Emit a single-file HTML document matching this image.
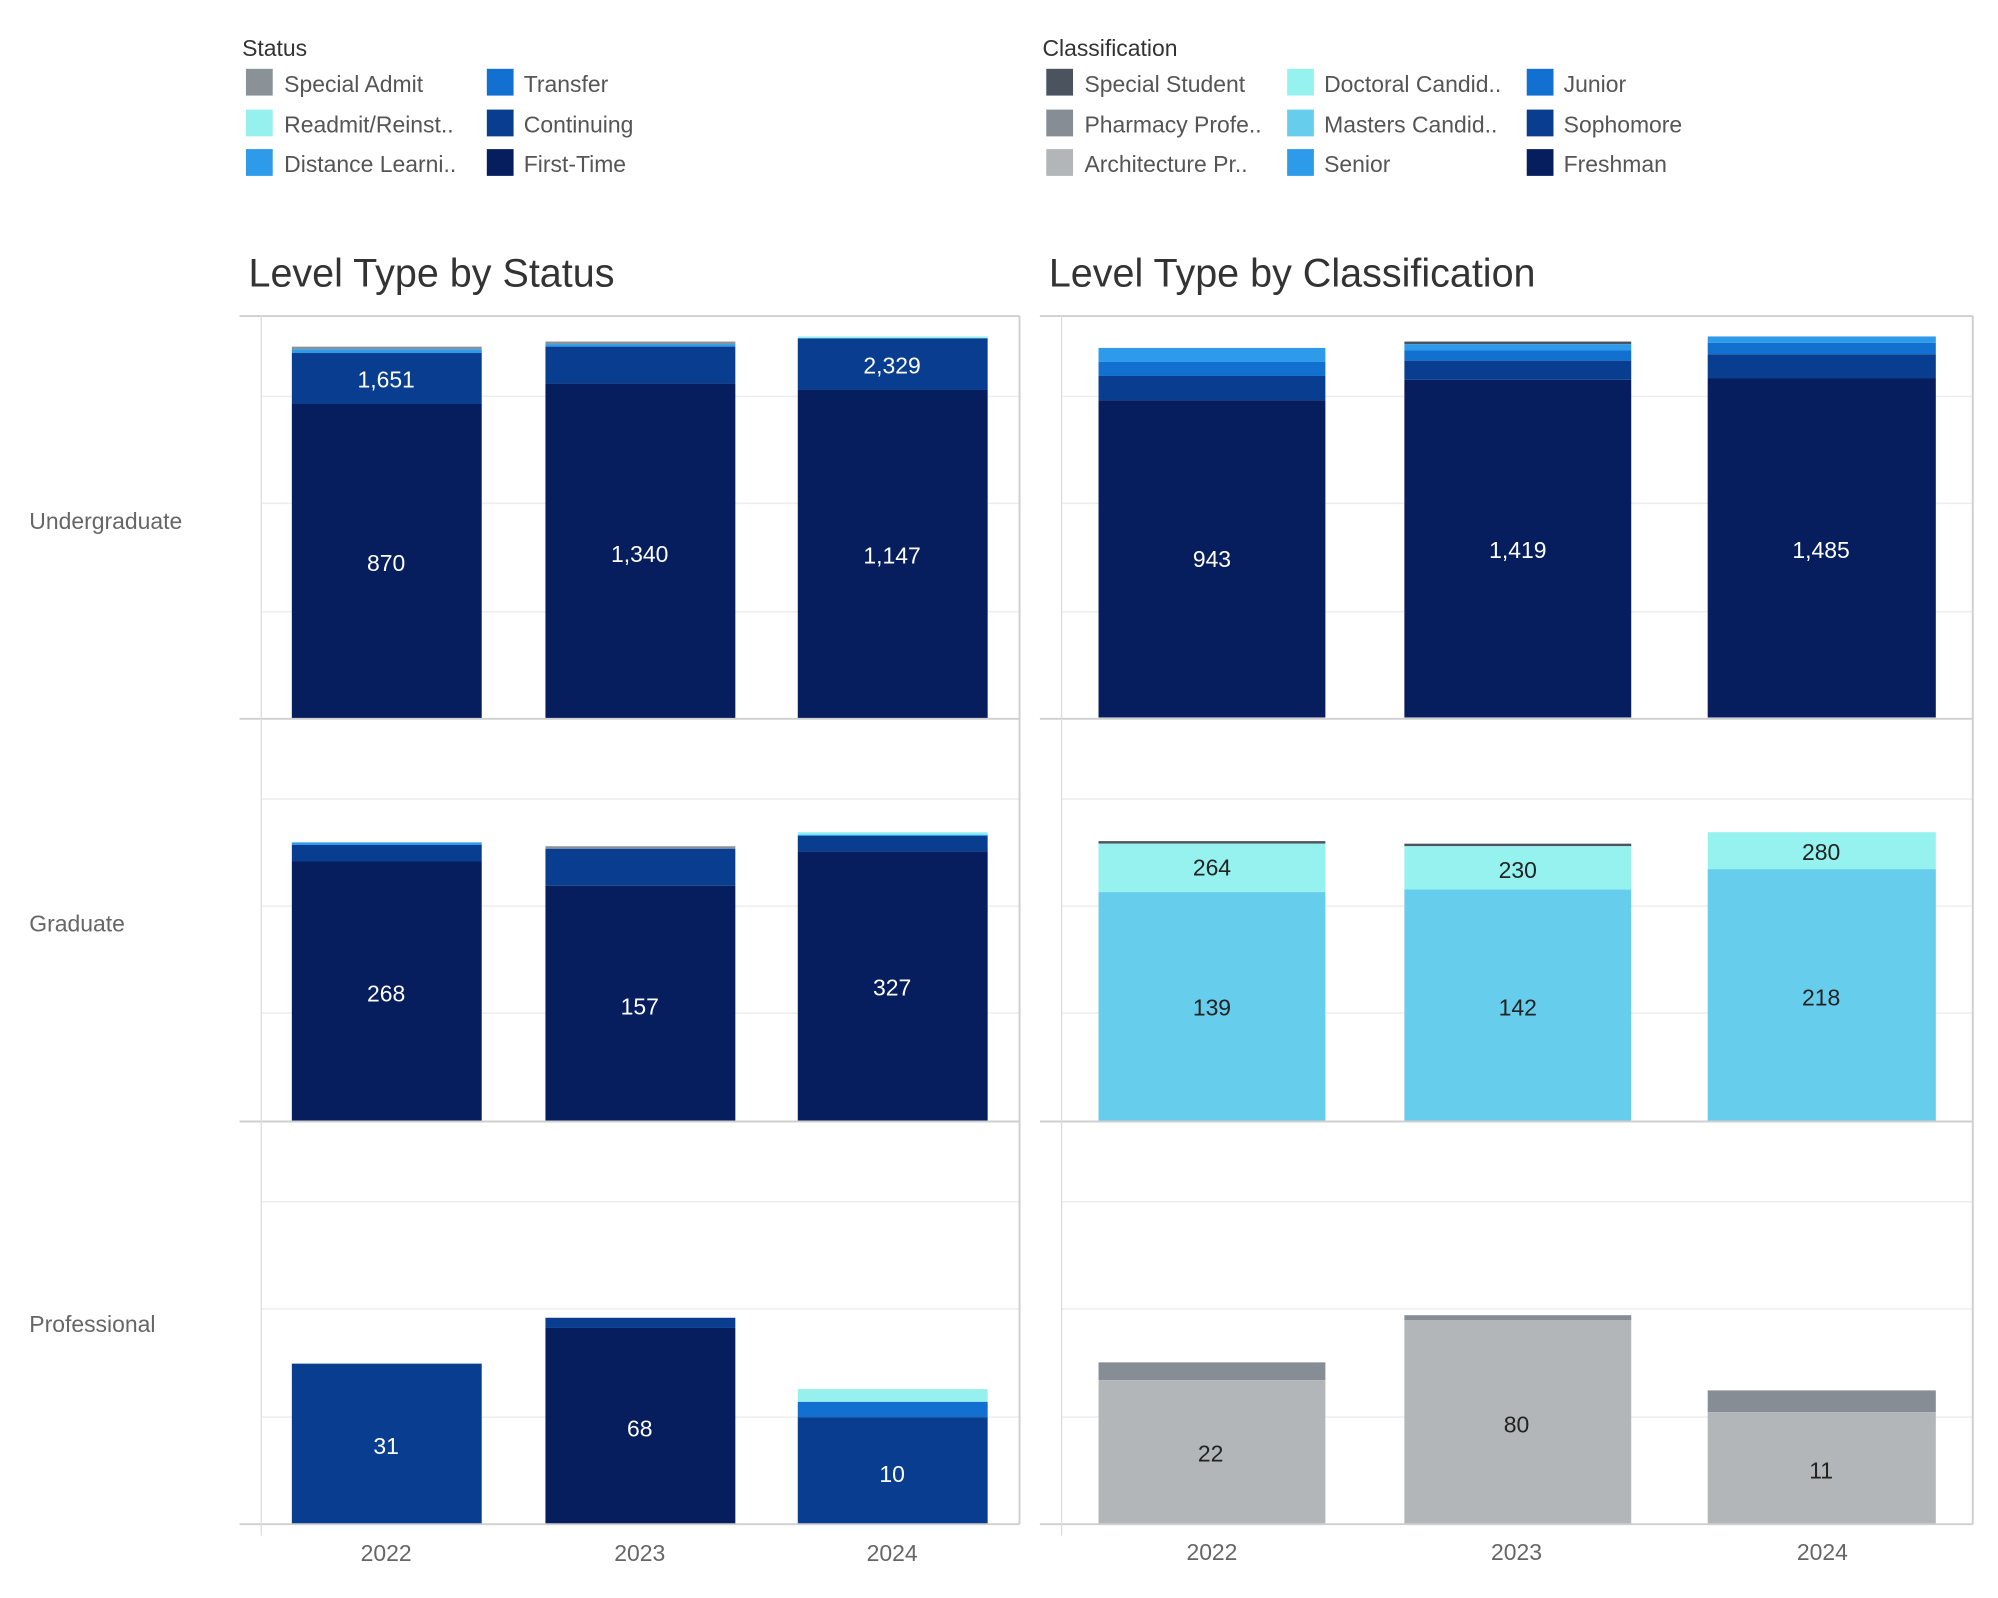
<!DOCTYPE html>
<html><head><meta charset="utf-8"><style>
html,body{margin:0;padding:0;background:#fff;}
svg{display:block;}
text{font-family:"Liberation Sans",sans-serif;}
</style></head><body>
<svg width="1998" height="1598" viewBox="0 0 1567.8 1253.9" preserveAspectRatio="none" xmlns="http://www.w3.org/2000/svg">
<g font-size="18" fill="#555">
<text x="190" y="44" fill="#333" font-size="18">Status</text>
<rect x="193" y="54" width="21" height="21" fill="#8a9297"/><text x="223" y="72">Special Admit</text>
<rect x="193" y="86" width="21" height="21" fill="#96f0ee"/><text x="223" y="104">Readmit/Reinst..</text>
<rect x="193" y="117" width="21" height="21" fill="#2e9aea"/><text x="223" y="135">Distance Learni..</text>
<rect x="382" y="54" width="21" height="21" fill="#1170d0"/><text x="411" y="72">Transfer</text>
<rect x="382" y="86" width="21" height="21" fill="#083d8f"/><text x="411" y="104">Continuing</text>
<rect x="382" y="117" width="21" height="21" fill="#061d5e"/><text x="411" y="135">First-Time</text>

<text x="818" y="44" fill="#333">Classification</text>
<rect x="821" y="54" width="21" height="21" fill="#4a535e"/><text x="851" y="72">Special Student</text>
<rect x="821" y="86" width="21" height="21" fill="#868d94"/><text x="851" y="104">Pharmacy Profe..</text>
<rect x="821" y="117" width="21" height="21" fill="#b2b6b8"/><text x="851" y="135">Architecture Pr..</text>
<rect x="1010" y="54" width="21" height="21" fill="#96f2ee"/><text x="1039" y="72">Doctoral Candid..</text>
<rect x="1010" y="86" width="21" height="21" fill="#66cdec"/><text x="1039" y="104">Masters Candid..</text>
<rect x="1010" y="117" width="21" height="21" fill="#2e9aea"/><text x="1039" y="135">Senior</text>
<rect x="1198" y="54" width="21" height="21" fill="#1170d0"/><text x="1227" y="72">Junior</text>
<rect x="1198" y="86" width="21" height="21" fill="#083d8f"/><text x="1227" y="104">Sophomore</text>
<rect x="1198" y="117" width="21" height="21" fill="#061d5e"/><text x="1227" y="135">Freshman</text>
</g>
<text x="195" y="225" font-size="31" fill="#333">Level Type by Status</text>
<text x="823" y="225" font-size="31" fill="#333">Level Type by Classification</text>

<g stroke="#eeeeee" stroke-width="1.2">
<line x1="205" x2="800" y1="311" y2="311"/><line x1="205" x2="800" y1="395" y2="395"/><line x1="205" x2="800" y1="480" y2="480"/>
<line x1="205" x2="800" y1="627" y2="627"/><line x1="205" x2="800" y1="711" y2="711"/><line x1="205" x2="800" y1="795" y2="795"/>
<line x1="205" x2="800" y1="943" y2="943"/><line x1="205" x2="800" y1="1027" y2="1027"/><line x1="205" x2="800" y1="1112" y2="1112"/>
<line x1="833" x2="1548" y1="311" y2="311"/><line x1="833" x2="1548" y1="395" y2="395"/><line x1="833" x2="1548" y1="480" y2="480"/>
<line x1="833" x2="1548" y1="627" y2="627"/><line x1="833" x2="1548" y1="711" y2="711"/><line x1="833" x2="1548" y1="795" y2="795"/>
<line x1="833" x2="1548" y1="943" y2="943"/><line x1="833" x2="1548" y1="1027" y2="1027"/><line x1="833" x2="1548" y1="1112" y2="1112"/>
</g>

<g>
<rect x="229" y="272" width="149" height="2" fill="#8a9297"/>
<rect x="229" y="274" width="149" height="3" fill="#2e9aea"/>
<rect x="229" y="277" width="149" height="40" fill="#083d8f"/>
<rect x="229" y="317" width="149" height="247" fill="#061d5e"/>
<rect x="428" y="268" width="149" height="2" fill="#8a9297"/>
<rect x="428" y="270" width="149" height="2" fill="#2e9aea"/>
<rect x="428" y="272" width="149" height="29" fill="#083d8f"/>
<rect x="428" y="301" width="149" height="263" fill="#061d5e"/>
<rect x="626" y="264" width="149" height="1.5" fill="#96f0ee"/>
<rect x="626" y="265.5" width="149" height="40.5" fill="#083d8f"/>
<rect x="626" y="306" width="149" height="258" fill="#061d5e"/>

<rect x="229" y="661" width="149" height="2" fill="#2e9aea"/>
<rect x="229" y="663" width="149" height="13" fill="#083d8f"/>
<rect x="229" y="676" width="149" height="204" fill="#061d5e"/>
<rect x="428" y="664" width="149" height="2" fill="#8a9297"/>
<rect x="428" y="666" width="149" height="29" fill="#083d8f"/>
<rect x="428" y="695" width="149" height="185" fill="#061d5e"/>
<rect x="626" y="653" width="149" height="2" fill="#96f0ee"/>
<rect x="626" y="655" width="149" height="1" fill="#2e9aea"/>
<rect x="626" y="656" width="149" height="12" fill="#083d8f"/>
<rect x="626" y="668" width="149" height="212" fill="#061d5e"/>

<rect x="229" y="1070" width="149" height="126" fill="#083d8f"/>
<rect x="428" y="1034" width="149" height="8" fill="#083d8f"/>
<rect x="428" y="1042" width="149" height="154" fill="#061d5e"/>
<rect x="626" y="1090" width="149" height="10" fill="#96f0ee"/>
<rect x="626" y="1100" width="149" height="12" fill="#1170d0"/>
<rect x="626" y="1112" width="149" height="84" fill="#083d8f"/>
</g>
<g>
<rect x="862" y="273" width="178" height="11" fill="#2e9aea"/>
<rect x="862" y="284" width="178" height="11" fill="#1170d0"/>
<rect x="862" y="295" width="178" height="19" fill="#083d8f"/>
<rect x="862" y="314" width="178" height="249" fill="#061d5e"/>
<rect x="1102" y="268" width="178" height="2" fill="#4a535e"/>
<rect x="1102" y="270" width="178" height="5" fill="#2e9aea"/>
<rect x="1102" y="275" width="178" height="8" fill="#1170d0"/>
<rect x="1102" y="283" width="178" height="15" fill="#083d8f"/>
<rect x="1102" y="298" width="178" height="265" fill="#061d5e"/>
<rect x="1340" y="264" width="179" height="5" fill="#2e9aea"/>
<rect x="1340" y="269" width="179" height="9" fill="#1170d0"/>
<rect x="1340" y="278" width="179" height="19" fill="#083d8f"/>
<rect x="1340" y="297" width="179" height="266" fill="#061d5e"/>

<rect x="862" y="660" width="178" height="2" fill="#4a535e"/>
<rect x="862" y="662" width="178" height="38" fill="#96f2ee"/>
<rect x="862" y="700" width="178" height="180" fill="#66cdec"/>
<rect x="1102" y="662" width="178" height="2" fill="#4a535e"/>
<rect x="1102" y="664" width="178" height="34" fill="#96f2ee"/>
<rect x="1102" y="698" width="178" height="182" fill="#66cdec"/>
<rect x="1340" y="653" width="179" height="29" fill="#96f2ee"/>
<rect x="1340" y="682" width="179" height="198" fill="#66cdec"/>

<rect x="862" y="1069" width="178" height="14" fill="#868d94"/>
<rect x="862" y="1083" width="178" height="113" fill="#b2b6b8"/>
<rect x="1102" y="1032" width="178" height="4" fill="#868d94"/>
<rect x="1102" y="1036" width="178" height="160" fill="#b2b6b8"/>
<rect x="1340" y="1091" width="179" height="17" fill="#868d94"/>
<rect x="1340" y="1108" width="179" height="88" fill="#b2b6b8"/>
</g>

<g stroke="#cfcfcf" stroke-width="1.5" fill="none">
<line x1="188" x2="800" y1="248" y2="248"/><line x1="188" x2="800" y1="564" y2="564"/><line x1="188" x2="800" y1="880" y2="880"/><line x1="188" x2="800" y1="1196" y2="1196"/>
<line x1="800" x2="800" y1="248" y2="1196"/>
<line x1="816" x2="1548" y1="248" y2="248"/><line x1="816" x2="1548" y1="564" y2="564"/><line x1="816" x2="1548" y1="880" y2="880"/><line x1="816" x2="1548" y1="1196" y2="1196"/>
<line x1="1548" x2="1548" y1="248" y2="1196"/>
</g>
<g stroke="#dddddd" stroke-width="1">
<line x1="205" x2="205" y1="248" y2="1205"/>
<line x1="833" x2="833" y1="248" y2="1205"/>
</g>

<g font-size="18" fill="#fff" text-anchor="middle">
<text x="303" y="304">1,651</text><text x="303" y="448">870</text>
<text x="502" y="441">1,340</text>
<text x="700" y="293">2,329</text><text x="700" y="442">1,147</text>
<text x="303" y="786">268</text><text x="502" y="796">157</text><text x="700" y="781">327</text>
<text x="303" y="1141">31</text><text x="502" y="1127">68</text><text x="700" y="1163">10</text>
<text x="951" y="445">943</text><text x="1191" y="438">1,419</text><text x="1429" y="438">1,485</text>
</g>
<g font-size="18" fill="#222" text-anchor="middle">
<text x="951" y="687">264</text><text x="951" y="797">139</text>
<text x="1191" y="689">230</text><text x="1191" y="797">142</text>
<text x="1429" y="675">280</text><text x="1429" y="789">218</text>
<text x="950" y="1147">22</text><text x="1190" y="1124">80</text><text x="1429" y="1160">11</text>
</g>

<g font-size="18" fill="#666">
<text x="23" y="415">Undergraduate</text>
<text x="23" y="731">Graduate</text>
<text x="23" y="1045">Professional</text>
</g>
<g font-size="18" fill="#666" text-anchor="middle">
<text x="303" y="1225">2022</text><text x="502" y="1225">2023</text><text x="700" y="1225">2024</text>
<text x="951" y="1224">2022</text><text x="1190" y="1224">2023</text><text x="1430" y="1224">2024</text>
</g>
</svg>
</body></html>
